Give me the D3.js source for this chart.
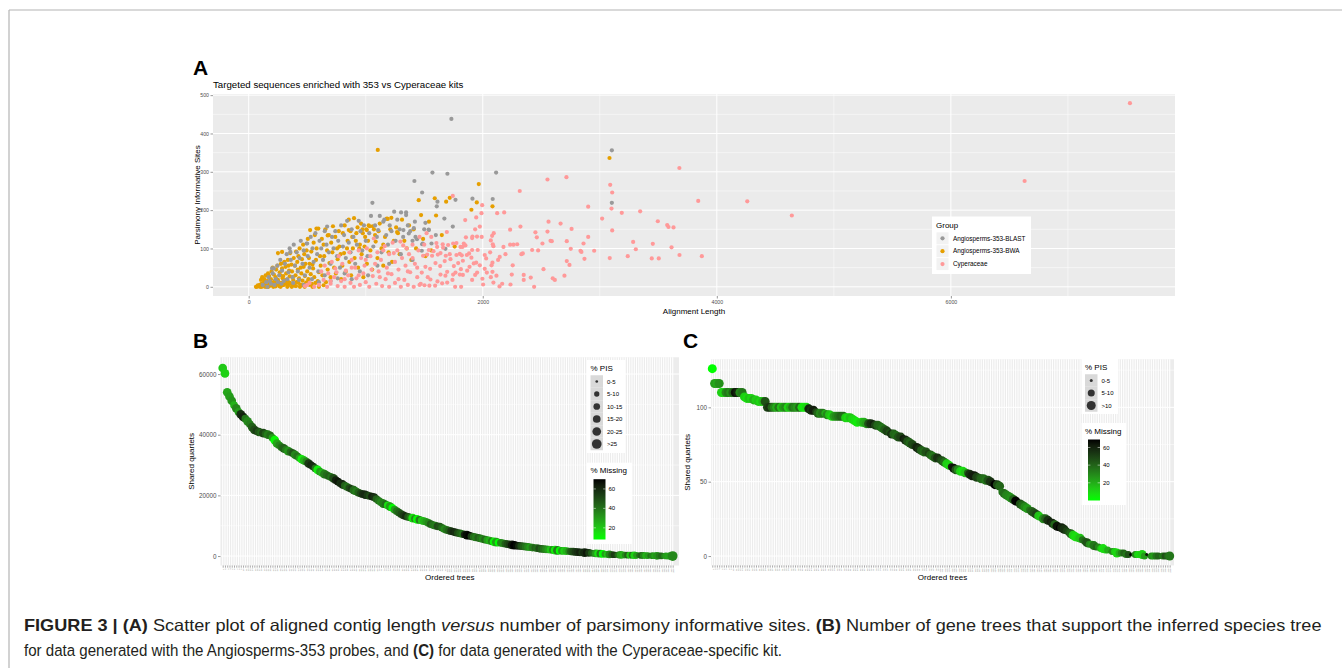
<!DOCTYPE html>
<html>
<head>
<meta charset="utf-8">
<script src="https://cdn.jsdelivr.net/npm/d3@7"></script>
<style>
body { margin: 0; background: #fff; }
svg { display: block; font-family: "Liberation Sans", Arial, Helvetica, sans-serif; }
</style>
</head>
<body>
<svg id="fig" width="1342" height="668"></svg>
<script>
// ---------- data: panel A (alignment length, parsimony informative sites) ----------
var groupNames = ["Angiosperms-353-BLAST", "Angiosperms-353-BWA", "Cyperaceae"];
var groupColors = ["#999999", "#E69F00", "#FF9999"];

var blastPts = [[120,5],[150,12],[160,0],[170,25],[180,15],[190,8],[200,48],[205,35],[215,48],[220,5],[230,20],[245,55],[250,12],[260,30],[270,70],[280,8],[285,42],[300,15],[310,60],[325,85],[330,20],[340,38],[350,100],[356,91],[360,70],[375,25],[380,10],[385,110],[395,55],[410,90],[420,40],[430,18],[435,75],[445,120],[460,60],[470,95],[470,5],[480,30],[495,113],[499,113],[505,80],[520,50],[530,130],[540,20],[545,100],[555,65],[570,140],[585,85],[595,40],[600,12],[605,120],[620,100],[635,70],[650,145],[650,30],[665,110],[670,157],[685,90],[700,60],[700,15],[712,130],[725,100],[740,145],[755,80],[760,22],[765,120],[780,50],[790,160],[805,105],[815,135],[820,35],[830,75],[841,172],[855,115],[870,90],[880,150],[880,20],[895,130],[910,60],[925,110],[940,172],[950,40],[955,145],[970,95],[985,160],[1000,120],[1015,80],[1020,30],[1030,140],[1045,185],[1057,219],[1065,105],[1080,160],[1095,130],[1100,55],[1106,148],[1120,185],[1135,90],[1150,170],[1159,175],[1175,135],[1190,110],[1200,60],[1205,160],[1220,145],[1243,196],[1255,120],[1270,175],[1290,150],[1300,85],[1302,194],[1320,130],[1322,148],[1345,187],[1345,194],[1360,160],[1368,139],[1380,145],[1400,120],[1400,70],[1411,153],[1416,276],[1420,170],[1425,130],[1438,124],[1479,94],[1482,111],[1482,246],[1487,113],[1500,150],[1510,167],[1538,149],[1539,148],[1562,113],[1570,298],[1599,135],[1607,210],[1613,222],[1672,178],[1681,99],[1698,295],[1732,438],[1744,157],[1767,227],[1912,230],[2085,229],[2114,298],[3103,356],[3103,219]];

var bwaPts = [[62,0],[70,0],[78,4],[85,2],[92,1],[95,5],[100,0],[105,18],[110,8],[112,0],[115,25],[120,3],[125,6],[130,12],[135,20],[138,2],[140,0],[145,30],[150,6],[152,9],[155,0],[160,15],[165,35],[168,0],[170,2],[175,28],[180,10],[182,3],[185,5],[190,20],[195,40],[198,11],[200,4],[205,50],[210,0],[212,6],[215,32],[220,14],[225,8],[228,1],[230,25],[235,45],[240,7],[242,13],[245,55],[250,18],[250,88],[255,12],[258,9],[260,2],[265,38],[270,30],[272,0],[275,60],[280,10],[285,48],[285,91],[288,4],[290,22],[295,28],[300,5],[300,62],[302,17],[305,65],[310,15],[315,52],[318,8],[320,35],[325,18],[330,0],[335,70],[336,3],[340,12],[340,55],[345,42],[350,27],[352,10],[355,88],[360,8],[365,58],[368,0],[370,40],[375,25],[380,18],[385,75],[386,6],[390,3],[395,55],[400,30],[404,2],[405,92],[410,12],[415,65],[420,45],[422,11],[425,80],[430,22],[435,100],[438,0],[440,6],[445,50],[450,35],[455,72],[458,4],[460,16],[465,110],[470,52],[475,85],[478,0],[480,28],[485,60],[490,10],[495,95],[500,40],[500,12],[505,125],[510,20],[515,75],[520,60],[520,5],[525,148],[530,33],[535,92],[540,8],[545,58],[545,0],[550,48],[555,115],[560,25],[565,135],[570,10],[575,70],[579,152],[580,100],[590,15],[595,152],[600,38],[600,0],[610,80],[615,55],[625,125],[630,30],[640,110],[640,4],[645,80],[655,150],[660,12],[670,95],[675,45],[675,134],[685,135],[690,62],[700,25],[705,115],[715,90],[720,158],[730,50],[740,130],[745,35],[755,100],[760,72],[770,145],[775,105],[785,85],[790,20],[800,55],[805,140],[815,88],[820,160],[830,40],[840,100],[845,120],[855,148],[855,175],[860,65],[870,145],[875,30],[885,130],[890,100],[900,179],[905,75],[915,120],[920,140],[930,155],[935,50],[945,100],[950,110],[960,165],[965,85],[972,150],[975,140],[980,25],[990,105],[995,130],[1005,150],[1009,148],[1010,60],[1020,120],[1025,160],[1034,158],[1040,95],[1055,45],[1060,158],[1070,150],[1080,135],[1085,118],[1100,75],[1103,357],[1110,145],[1120,165],[1135,100],[1150,55],[1150,110],[1165,130],[1180,178],[1188,177],[1195,90],[1210,150],[1219,180],[1225,65],[1240,120],[1260,155],[1268,143],[1275,140],[1290,85],[1310,175],[1330,120],[1350,100],[1370,160],[1390,70],[1410,150],[1430,100],[1453,226],[1473,187],[1490,125],[1510,80],[1540,170],[1560,95],[1590,231],[1601,186],[1650,135],[1687,222],[1718,232],[1760,105],[1903,201],[1949,220],[1966,268],[2083,210],[3083,336]];

var cypPts = [[480,2],[499,5],[520,10],[560,0],[600,5],[620,40],[640,18],[650,55],[670,0],[680,35],[700,8],[700,15],[710,65],[730,25],[740,48],[750,38],[760,2],[770,80],[790,15],[800,60],[820,0],[820,20],[830,42],[850,30],[860,90],[870,10],[880,70],[880,50],[900,0],[910,50],[920,22],[940,95],[940,30],[950,5],[960,75],[980,35],[990,55],[1000,12],[1000,70],[1010,100],[1030,0],[1040,80],[1050,45],[1060,28],[1069,126],[1080,60],[1090,8],[1100,90],[1110,40],[1120,25],[1130,70],[1140,2],[1150,95],[1162,106],[1170,20],[1180,50],[1190,35],[1200,0],[1200,85],[1220,33],[1230,115],[1240,88],[1250,10],[1250,65],[1270,95],[1280,45],[1280,20],[1296,118],[1300,0],[1310,75],[1320,108],[1330,18],[1340,55],[1350,100],[1360,5],[1360,40],[1370,85],[1380,38],[1400,110],[1400,75],[1410,0],[1420,60],[1440,25],[1440,50],[1450,95],[1460,130],[1460,5],[1470,8],[1479,37],[1490,81],[1500,110],[1502,4],[1510,52],[1520,140],[1525,84],[1530,25],[1539,96],[1544,3],[1550,47],[1553,19],[1560,130],[1567,81],[1579,93],[1593,3],[1596,62],[1604,114],[1610,104],[1613,14],[1616,84],[1636,54],[1639,32],[1639,88],[1653,9],[1658,111],[1661,102],[1675,67],[1681,29],[1684,81],[1693,143],[1696,11],[1696,39],[1704,109],[1718,85],[1724,72],[1741,18],[1744,237],[1747,32],[1747,113],[1753,54],[1764,0],[1767,37],[1775,114],[1775,83],[1790,62],[1804,32],[1804,86],[1810,104],[1813,46],[1815,0],[1821,82],[1827,104],[1830,68],[1830,31],[1838,113],[1850,174],[1852,108],[1856,129],[1864,83],[1867,42],[1883,87],[1887,52],[1903,76],[1909,18],[1909,96],[1909,127],[1912,131],[1923,61],[1935,31],[1935,150],[1944,63],[1944,181],[1951,131],[1952,37],[1957,96],[1975,56],[1975,157],[1989,192],[1991,130],[1995,213],[1997,21],[2003,6],[2017,47],[2017,83],[2029,74],[2035,37],[2063,90],[2069,25],[2069,121],[2075,56],[2080,133],[2083,39],[2083,63],[2086,111],[2091,11],[2091,106],[2094,140],[2117,29],[2123,192],[2131,70],[2143,1],[2145,78],[2166,8],[2177,104],[2183,194],[2194,85],[2234,110],[2234,149],[2237,6],[2248,32],[2256,56],[2262,110],[2294,111],[2316,250],[2322,157],[2330,85],[2342,87],[2350,18],[2350,31],[2410,24],[2422,96],[2439,0],[2450,142],[2462,129],[2473,95],[2510,113],[2519,46],[2553,144],[2553,280],[2562,170],[2579,120],[2590,119],[2598,22],[2616,18],[2665,165],[2698,29],[2715,286],[2718,67],[2718,119],[2741,57],[2752,99],[2759,151],[2835,94],[2843,91],[2861,113],[2869,73],[2901,130],[2901,209],[2952,94],[3020,178],[3085,75],[3089,266],[3100,204],[3106,246],[3106,147],[3188,193],[3239,80],[3285,117],[3308,98],[3345,197],[3444,74],[3453,112],[3496,171],[3504,74],[3576,161],[3587,156],[3613,103],[3630,155],[3680,310],[3681,83],[3841,224],[3872,80],[4260,223],[4641,186],[6630,276],[7530,479]];

var xTicksA = [0, 2000, 4000, 6000];
var yTicksA = [0, 100, 200, 300, 400, 500];

// ---------- data: panel B (Angiosperms-353 gene trees) ----------
var quartetsB = [62000,60200,54000,52600,51200,49800,48700,47500,46700,45900,45300,44400,43500,42500,41600,41200,40900,40700,40500,40300,
40000,39800,39000,38200,37100,36500,35900,35500,35000,34600,34300,33900,33400,32900,32300,31900,31500,31100,30500,30000,
29500,28900,28400,27800,27400,27000,26700,26300,26000,25600,25000,24500,24000,23600,23200,22800,22400,22100,21700,21300,
20900,20600,20400,20200,20000,19800,19600,19400,18800,18200,17700,17300,17000,16700,16300,15900,15300,14800,14300,13800,
13400,13100,12900,12700,12500,12300,12100,11900,11700,11500,11300,10900,10500,10200,10000,9800,9700,9300,8900,8600,
8400,8200,8000,7800,7600,7450,7250,7100,6900,6700,6500,6350,6150,6000,5800,5600,5400,5250,5050,4850,
4700,4600,4450,4350,4200,4050,3900,3750,3650,3550,3450,3350,3270,3200,3100,3000,2900,2800,2700,2600,
2450,2350,2300,2220,2150,2080,2000,1930,1850,1780,1720,1680,1650,1600,1500,1430,1360,1280,1210,1170,
1130,1100,1050,960,880,850,800,770,700,640,580,520,460,430,410,390,370,350,335,320,
300,280,260,240,225,210,190,170,150,130,115,100,85,70,55,40,30,20,10,0];
var missingB = [20,18,28,30,32,25,35,30,58,62,40,35,38,45,50,55,48,42,52,45,
38,42,30,10,28,35,40,45,38,32,42,48,36,40,30,12,25,35,55,60,
58,40,12,30,25,38,42,45,40,50,62,65,58,60,45,40,50,55,42,38,
45,52,58,60,55,50,62,58,45,40,35,38,42,15,30,8,30,40,45,50,
55,60,48,40,15,35,10,38,20,25,30,35,45,40,38,50,48,42,35,40,
45,55,60,58,50,45,40,62,68,70,55,42,38,45,40,35,42,30,25,38,
10,30,8,35,35,45,50,55,65,70,68,60,50,45,40,35,30,38,45,42,
50,45,40,35,30,20,35,12,38,8,30,18,25,35,45,50,55,58,62,55,
60,65,55,45,40,30,15,38,8,30,20,35,45,55,50,40,30,25,35,45,
20,40,18,30,40,45,35,25,30,40,35,28,32,38,42,35,30,28,30,35];
// size class index into pisLabelsB
var pisB = [4,4,4,4,4,3,4,3,4,4,3,4,3,4,4,3,4,3,4,3,
4,3,3,4,4,3,3,4,3,4,3,3,4,3,3,4,4,3,4,3,
3,3,4,3,3,4,3,3,3,4,3,3,3,4,3,3,3,3,4,3,
3,3,3,4,3,3,3,3,3,3,3,4,3,3,4,3,3,3,3,3,
3,3,3,3,4,3,4,3,3,3,3,3,3,3,3,3,3,3,3,3,
3,3,3,3,3,3,3,3,4,3,3,3,3,3,3,3,3,3,3,3,
4,4,3,3,3,3,3,3,4,4,3,3,3,3,3,3,3,3,2,3,
3,3,3,3,3,3,3,4,4,3,3,3,3,2,3,3,3,3,3,3,
4,3,3,2,2,3,3,3,3,2,2,3,2,2,1,2,3,2,2,2,
2,2,3,2,1,2,2,2,2,1,2,2,3,2,2,1,2,2,3,5];
var pisLabelsB = ["0-5", "5-10", "10-15", "15-20", "20-25", ">25"];
var yTicksB = [0, 20000, 40000, 60000];
var missTicksB = [20, 40, 60];

// ---------- data: panel C (Cyperaceae kit gene trees) ----------
var quartetsC = [126,116,116,116,110,110,110,110,110,110,110,110,110,110,107,106,106,106,105,105,
104,104,104,104,100,100,100,100,100,100,100,100,100,100,100,100,100,100,100,100,
100,100,99,98,98,97,96,96,96,96,95,95,94,94,94,94,94,94,93,93,
93,92,91,90,90,90,90,89,89,89,89,88,88,87,86,85,84,83,82,82,
81,80,80,79,78,77,76,75,74,73,72,71,70,70,69,68,67,66,66,65,
64,63,62,61,60,59,58,58,57,57,56,56,55,54,54,53,53,52,52,51,
51,50,49,48,48,47,43,42,41,40,39,38,37,36,35,34,33,32,31,30,
29,28,27,26,25,25,24,23,22,21,20,19,19,18,17,16,15,14,13,12,
12,11,10,9,8,8,7,6,6,5,5,4,4,3,3,3,2,2,2,2,
1,1,1,1,1,1,1,1,0,1,0,0,0,0,0,0,0,0,0,0];
var missingC = [0,25,22,28,12,10,30,35,28,40,65,60,30,35,12,8,15,10,20,12,
15,10,18,45,50,55,40,30,20,35,15,25,30,10,20,35,30,25,40,8,
5,10,60,55,62,50,40,30,35,20,30,15,10,25,30,35,40,38,12,8,
15,10,8,5,10,12,20,25,45,55,60,50,40,38,35,42,50,45,55,40,
38,45,50,62,58,45,40,48,52,60,55,42,38,45,50,40,35,45,55,50,
45,38,12,10,60,65,45,30,12,8,15,40,55,60,62,50,45,40,38,35,
45,55,60,69,48,40,35,38,32,30,28,40,68,69,45,38,30,25,35,40,
45,50,15,12,30,40,55,62,58,40,65,69,60,55,50,45,40,12,8,10,
15,35,40,45,30,25,35,40,30,15,8,10,20,35,30,12,10,20,30,40,
35,45,69,68,30,10,8,12,25,65,69,30,25,35,40,30,35,45,40,35];
var pisC = [2,2,2,2,2,2,2,2,2,2,2,2,2,2,2,2,2,2,2,2,
2,2,2,2,2,2,2,2,2,2,2,2,2,2,2,2,2,2,2,2,
2,2,2,2,2,1,2,2,2,1,2,2,2,2,2,2,2,2,2,2,
2,2,2,2,1,2,2,2,2,2,1,2,2,2,2,2,2,1,2,2,
2,2,2,1,2,2,2,2,1,2,2,2,2,2,1,2,2,2,2,1,
2,2,2,2,1,2,2,2,2,2,2,1,2,2,2,2,1,2,2,2,
2,2,1,2,2,2,1,2,2,2,2,2,2,1,2,2,2,2,1,2,
2,2,2,1,2,2,2,1,2,2,2,1,2,2,1,1,2,2,2,1,
2,1,1,2,1,1,2,1,1,1,2,1,1,0,1,1,2,1,1,1,
1,1,0,0,1,1,1,2,1,0,0,1,1,1,1,0,1,1,1,2];
var pisLabelsC = ["0-5", "5-10", ">10"];
var yTicksC = [0, 50, 100];
var missTicksC = [20, 40, 60];

// ---------------------------------------------------------------
var svg = d3.select("#fig");
var plain = d3.format("d");

// page frame
svg.append("line").attr("x1", 9).attr("y1", 10).attr("x2", 1342).attr("y2", 10)
	.attr("stroke", "#b4b4b4").attr("stroke-width", 1.2);
svg.append("line").attr("x1", 9).attr("y1", 10).attr("x2", 9).attr("y2", 668)
	.attr("stroke", "#b4b4b4").attr("stroke-width", 1.2);

function styleAxis(g, fs) {
	g.attr("font-family", null).attr("font-size", null);
	g.select(".domain").remove();
	g.selectAll(".tick line").attr("stroke", "#333").attr("stroke-width", 0.5);
	g.selectAll(".tick text").attr("fill", "#4d4d4d").style("font-size", fs + "px");
}

function panelLetter(txt, x, y) {
	svg.append("text").attr("x", x).attr("y", y).text(txt)
		.style("font-size", "21px").style("font-weight", "bold").attr("fill", "#000");
}

// ================= panel A =================
var A = {left: 213, right: 1175, top: 94, bottom: 296};
var xA = d3.scaleLinear().domain([-305, 7915]).range([A.left, A.right]);
var yA = d3.scaleLinear().domain([-24, 503]).range([A.bottom, A.top]);

panelLetter("A", 193, 75);
svg.append("text").attr("x", A.left).attr("y", 88)
	.text("Targeted sequences enriched with 353 vs Cyperaceae kits")
	.style("font-size", "9.7px").attr("fill", "#000");

var gA = svg.append("g");
gA.append("rect").attr("x", A.left).attr("y", A.top)
	.attr("width", A.right - A.left).attr("height", A.bottom - A.top).attr("fill", "#ebebeb");

// grid
gA.selectAll(".yminor").data(d3.range(50, 500, 100)).join("line")
	.attr("x1", A.left).attr("x2", A.right).attr("y1", d => yA(d)).attr("y2", d => yA(d))
	.attr("stroke", "#fff").attr("stroke-width", 0.5);
gA.selectAll(".xminor").data([1000, 3000, 5000, 7000]).join("line")
	.attr("y1", A.top).attr("y2", A.bottom).attr("x1", d => xA(d)).attr("x2", d => xA(d))
	.attr("stroke", "#fff").attr("stroke-width", 0.5);
gA.selectAll(".ymajor").data(yTicksA).join("line")
	.attr("x1", A.left).attr("x2", A.right).attr("y1", d => yA(d)).attr("y2", d => yA(d))
	.attr("stroke", "#fff").attr("stroke-width", 1);
gA.selectAll(".xmajor").data(xTicksA).join("line")
	.attr("y1", A.top).attr("y2", A.bottom).attr("x1", d => xA(d)).attr("x2", d => xA(d))
	.attr("stroke", "#fff").attr("stroke-width", 1);

// points: BWA first, then BLAST, then Cyperaceae on top
[[bwaPts, 1], [blastPts, 0], [cypPts, 2]].forEach(function(s) {
	gA.append("g").selectAll("circle").data(s[0]).join("circle")
		.attr("cx", d => xA(d[0])).attr("cy", d => yA(d[1])).attr("r", 2.1)
		.attr("fill", groupColors[s[1]]);
});

var axA_x = svg.append("g").attr("transform", "translate(0," + A.bottom + ")")
	.call(d3.axisBottom(xA).tickValues(xTicksA).tickFormat(plain).tickSize(2.5).tickPadding(1.5));
styleAxis(axA_x, 5.2);
var axA_y = svg.append("g").attr("transform", "translate(" + A.left + ",0)")
	.call(d3.axisLeft(yA).tickValues(yTicksA).tickFormat(plain).tickSize(2.5).tickPadding(1.5));
styleAxis(axA_y, 5.2);

svg.append("text").attr("x", (A.left + A.right) / 2).attr("y", 314)
	.attr("text-anchor", "middle").style("font-size", "8px").text("Alignment Length");
svg.append("text").attr("transform", "translate(199.5," + ((A.top + A.bottom) / 2) + ") rotate(-90)")
	.attr("text-anchor", "middle").style("font-size", "8px").text("Parsimony Informative Sites");

// legend A
var legA = svg.append("g").attr("transform", "translate(932,216.5)");
legA.append("rect").attr("width", 99).attr("height", 57.5).attr("fill", "#fff");
legA.append("text").attr("x", 4).attr("y", 11).style("font-size", "8px").text("Group");
groupNames.forEach(function(name, i) {
	var cy = 21.8 + i * 12.9;
	legA.append("rect").attr("x", 4.5).attr("y", cy - 6).attr("width", 12).attr("height", 12)
		.attr("fill", "#f2f2f2");
	legA.append("circle").attr("cx", 10.5).attr("cy", cy).attr("r", 2.1).attr("fill", groupColors[i]);
	legA.append("text").attr("x", 21).attr("y", cy + 2.2).style("font-size", "6.4px")
		.attr("fill", "#000").text(name);
});

// ================= panels B and C =================
function drawTreePanel(p) {
	var n = p.quartets.length;
	var x = d3.scalePoint().domain(d3.range(n)).range([p.firstX, p.lastX]).padding(0);
	var y = d3.scaleLinear().domain(p.yDomain).range([p.bottom, p.top]);
	var col = d3.scaleLinear().domain(d3.extent(p.missing))
		.range(["#00ff00", "#000000"]).interpolate(d3.interpolateLab);

	panelLetter(p.letter, p.letterX, 348);

	var g = svg.append("g");
	g.append("rect").attr("x", p.left).attr("y", p.top)
		.attr("width", p.right - p.left).attr("height", p.bottom - p.top).attr("fill", "#ececec");
	g.selectAll(".vg").data(d3.range(n)).join("line")
		.attr("x1", i => x(i)).attr("x2", i => x(i)).attr("y1", p.top).attr("y2", p.bottom)
		.attr("stroke", "#fff").attr("stroke-width", 1.1);
	var minor = [];
	for (var k = 0; k < p.yTicks.length - 1; k++) minor.push((p.yTicks[k] + p.yTicks[k + 1]) / 2);
	minor.push(p.yTicks[p.yTicks.length - 1] + (p.yTicks[1] - p.yTicks[0]) / 2);
	g.selectAll(".hm").data(minor.filter(v => v < p.yDomain[1])).join("line")
		.attr("x1", p.left).attr("x2", p.right).attr("y1", d => y(d)).attr("y2", d => y(d))
		.attr("stroke", "#fff").attr("stroke-width", 0.5);
	g.selectAll(".hM").data(p.yTicks).join("line")
		.attr("x1", p.left).attr("x2", p.right).attr("y1", d => y(d)).attr("y2", d => y(d))
		.attr("stroke", "#fff").attr("stroke-width", 1);

	g.append("g").selectAll("circle").data(d3.range(n)).join("circle")
		.attr("cx", i => x(i)).attr("cy", i => y(p.quartets[i]))
		.attr("r", i => p.radii[p.pis[i]]).attr("fill", i => col(p.missing[i]));

	// axes
	var ay = svg.append("g").attr("transform", "translate(" + p.left + ",0)")
		.call(d3.axisLeft(y).tickValues(p.yTicks).tickFormat(plain).tickSize(2.5).tickPadding(1.5));
	styleAxis(ay, 6.3);
	var ax = svg.append("g").attr("transform", "translate(0," + p.bottom + ")")
		.call(d3.axisBottom(x).tickSize(2.2).tickPadding(0.8).tickFormat(i => String(i + 1)));
	styleAxis(ax, 2.4);
	ax.selectAll(".tick line").attr("stroke", "#555");
	ax.selectAll(".tick text").attr("transform", "rotate(-90)").attr("text-anchor", "end")
		.attr("x", -3).attr("dy", "0.32em").attr("y", 0).attr("fill", "#777");

	svg.append("text").attr("x", (p.left + p.right) / 2).attr("y", 580)
		.attr("text-anchor", "middle").style("font-size", "8px").text("Ordered trees");
	svg.append("text").attr("transform", "translate(" + p.yTitleX + "," + ((p.top + p.bottom) / 2) + ") rotate(-90)")
		.attr("text-anchor", "middle").style("font-size", "8px").text("Shared quartets");

	// % PIS legend
	var lp = svg.append("g").attr("transform", "translate(" + p.pisBox[0] + "," + p.pisBox[1] + ")");
	lp.append("rect").attr("width", p.pisBox[2]).attr("height", p.pisBox[3]).attr("fill", "#fff");
	lp.append("text").attr("x", 3.5).attr("y", 10.5).style("font-size", "8px").text("% PIS");
	p.pisLabels.forEach(function(lab, i) {
		var cy = 21.5 + i * 12.5;
		lp.append("rect").attr("x", 3.5).attr("y", cy - 6.25).attr("width", 12.5).attr("height", 12.5)
			.attr("fill", "#d9d9d9");
		lp.append("circle").attr("cx", 9.75).attr("cy", cy).attr("r", p.radii[i]).attr("fill", "#333");
		lp.append("text").attr("x", 20).attr("y", cy + 2.1).style("font-size", "6px").text(lab);
	});

	// % Missing legend
	var lm = svg.append("g").attr("transform", "translate(" + p.missBox[0] + "," + p.missBox[1] + ")");
	lm.append("rect").attr("width", p.missBox[2]).attr("height", p.missBox[3]).attr("fill", "#fff");
	lm.append("text").attr("x", 3.5).attr("y", 10.5).style("font-size", "8px").text("% Missing");
	var barTop = 16.5, barH = p.missBox[3] - 21, barX = 6.5, barW = 12;
	var gid = "grad" + p.letter;
	var grad = svg.append("defs").append("linearGradient").attr("id", gid)
		.attr("x1", 0).attr("y1", 1).attr("x2", 0).attr("y2", 0);
	var ext = d3.extent(p.missing);
	d3.range(11).forEach(function(s) {
		var v = ext[0] + (ext[1] - ext[0]) * s / 10;
		grad.append("stop").attr("offset", (s * 10) + "%").attr("stop-color", col(v));
	});
	lm.append("rect").attr("x", barX).attr("y", barTop).attr("width", barW).attr("height", barH)
		.attr("fill", "url(#" + gid + ")");
	var barScale = d3.scaleLinear().domain(ext).range([barTop + barH, barTop]);
	p.missTicks.forEach(function(v) {
		var yy = barScale(v);
		lm.append("line").attr("x1", barX).attr("x2", barX + 2.4).attr("y1", yy).attr("y2", yy)
			.attr("stroke", "#fff").attr("stroke-width", 0.5);
		lm.append("line").attr("x1", barX + barW - 2.4).attr("x2", barX + barW).attr("y1", yy).attr("y2", yy)
			.attr("stroke", "#fff").attr("stroke-width", 0.5);
		lm.append("text").attr("x", barX + barW + 3).attr("y", yy + 2.1).style("font-size", "6px").text(v);
	});
}

drawTreePanel({
	letter: "B", letterX: 193,
	quartets: quartetsB, missing: missingB, pis: pisB, pisLabels: pisLabelsB,
	radii: [1.35, 2.65, 3.35, 3.85, 4.35, 4.85],
	left: 220.5, right: 679, top: 357.3, bottom: 565.5, firstX: 222.7, lastX: 672.7,
	yDomain: [-3120, 65520], yTicks: yTicksB, missTicks: missTicksB, yTitleX: 194,
	pisBox: [587, 360, 38, 93], missBox: [587, 462.7, 45, 81.3]
});

drawTreePanel({
	letter: "C", letterX: 683,
	quartets: quartetsC, missing: missingC, pis: pisC, pisLabels: pisLabelsC,
	radii: [1.5, 3.5, 4.5],
	left: 711, right: 1174, top: 359.3, bottom: 565.4, firstX: 712.3, lastX: 1169.7,
	yDomain: [-6.3, 132.3], yTicks: yTicksC, missTicks: missTicksC, yTitleX: 690,
	pisBox: [1081.5, 359, 36.5, 55], missBox: [1081.5, 423, 44.5, 82]
});

// ================= caption =================
var captionLines = [
	[["FIGURE 3 | (A)", "b"], [" Scatter plot of aligned contig length ", ""], ["versus", "i"],
	 [" number of parsimony informative sites. ", ""], ["(B)", "b"],
	 [" Number of gene trees that support the inferred species tree", ""]],
	[["for data generated with the Angiosperms-353 probes, and ", ""], ["(C)", "b"],
	 [" for data generated with the Cyperaceae-specific kit.", ""]]
];
var captionWidths = [1298, 759];
var captionY = [631, 656];
captionLines.forEach(function(parts, li) {
	var t = svg.append("text").attr("x", 0).attr("y", 0)
		.style("font-size", "16.5px").attr("fill", "#231f20")
		.attr("font-family", "'Liberation Sans Narrow', 'Liberation Sans', Arial, sans-serif");
	parts.forEach(function(pt) {
		var ts = t.append("tspan").text(pt[0]);
		if (pt[1] == "b") ts.style("font-weight", "bold");
		if (pt[1] == "i") ts.style("font-style", "italic");
	});
	var w = t.node().getComputedTextLength();
	t.attr("transform", "translate(24," + captionY[li] + ") scale(" + (captionWidths[li] / w) + ",1)");
});
</script>
</body>
</html>
